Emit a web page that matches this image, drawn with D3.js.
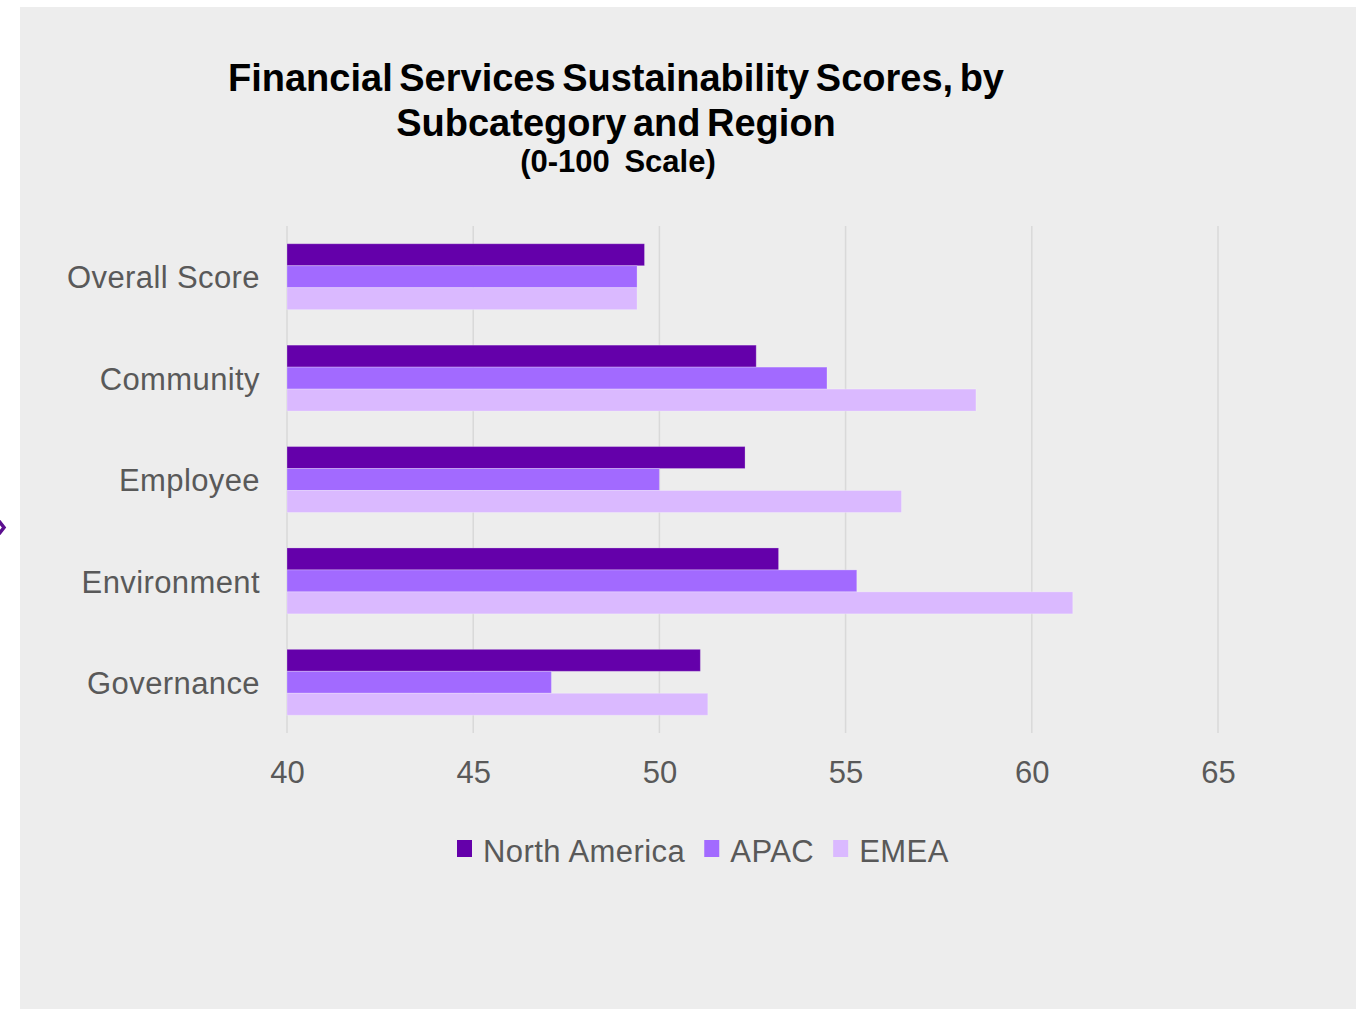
<!DOCTYPE html>
<html>
<head>
<meta charset="utf-8">
<script src="https://cdn.jsdelivr.net/npm/d3@7"></script>
<style>
  body { margin: 0; background: #fff; }
  svg { display: block; font-family: 'Liberation Sans', Arial, sans-serif; }
</style>
</head>
<body>
<div id="chart"></div>
<script>
const categories = ['Overall Score', 'Community', 'Employee', 'Environment', 'Governance']
const regions = ['North America', 'APAC', 'EMEA']
const northAmerica = [49.6, 52.6, 52.3, 53.2, 51.1]
const apac = [49.4, 54.5, 50.0, 55.3, 47.1]
const emea = [49.4, 58.5, 56.5, 61.1, 51.3]
const xTicks = [40, 45, 50, 55, 60, 65]
const titleLines = ['Financial Services Sustainability Scores, by', 'Subcategory and Region']
const subtitle = '(0-100 Scale)'

const series = [northAmerica, apac, emea]
const colors = ['#6400aa', '#a26aff', '#dab9ff']

const W = 1369
const H = 1009
const m = { top: 226, left: 287, right: 151, bottom: 276 }

const svg = d3.select('#chart').append('svg')
  .attr('width', W)
  .attr('height', H)

// grey panel
svg.append('rect')
  .attr('x', 20).attr('y', 7)
  .attr('width', 1336).attr('height', 1002)
  .attr('fill', '#ededed')

// small marker on the left edge
svg.append('path')
  .attr('d', 'M-1,521 L4,527.5 L-1,534')
  .attr('fill', 'none')
  .attr('stroke', '#5b0f8f')
  .attr('stroke-width', 3.5)

const x = d3.scaleLinear()
  .domain([40, 65])
  .range([m.left, W - m.right])

const y = d3.scaleBand()
  .domain(categories)
  .range([m.top, H - m.bottom])
  .paddingInner(0.35)
  .paddingOuter(0.175)

const y1 = d3.scaleBand()
  .domain(regions)
  .range([0, y.bandwidth()])

// gridlines
svg.append('g')
  .selectAll('line')
  .data(xTicks)
  .join('line')
  .attr('x1', d => x(d)).attr('x2', d => x(d))
  .attr('y1', m.top).attr('y2', H - m.bottom)
  .attr('stroke', '#d9d9d9')
  .attr('stroke-width', 1.5)

// bars
const rows = categories.map((c, i) => ({ c, vals: series.map((s, j) => ({ r: regions[j], v: s[i], j })) }))

svg.append('g')
  .selectAll('g')
  .data(rows)
  .join('g')
  .attr('transform', d => `translate(0,${y(d.c)})`)
  .selectAll('rect')
  .data(d => d.vals)
  .join('rect')
  .attr('x', x(40))
  .attr('y', d => y1(d.r))
  .attr('width', d => x(d.v) - x(40))
  .attr('height', y1.bandwidth())
  .attr('fill', d => colors[d.j])
  .attr('stroke', 'rgba(255,255,255,0.25)')
  .attr('stroke-width', 1)

// category labels
svg.append('g')
  .selectAll('text')
  .data(categories)
  .join('text')
  .attr('x', 260)
  .attr('y', d => y(d) + y.bandwidth() / 2)
  .attr('dy', '0.38em')
  .attr('text-anchor', 'end')
  .attr('fill', '#595959')
  .style('font-size', '31px')
  .style('letter-spacing', '0.4px')
  .text(d => d)

// x axis
const xAxis = svg.append('g')
  .attr('transform', `translate(0,${H - m.bottom})`)
  .call(d3.axisBottom(x).tickValues(xTicks).tickSize(0).tickPadding(28))
xAxis.select('.domain').remove()
xAxis.selectAll('text')
  .attr('fill', '#595959')
  .style('font-size', '31px')
  .style('font-family', "'Liberation Sans', Arial, sans-serif")

// title
svg.append('g')
  .selectAll('text')
  .data(titleLines)
  .join('text')
  .attr('x', 616)
  .attr('y', (d, i) => 91 + i * 45)
  .attr('text-anchor', 'middle')
  .style('font-size', '38px')
  .style('font-weight', 'bold')
  .style('word-spacing', '-4px')
  .attr('fill', '#000')
  .text(d => d)

svg.append('text')
  .attr('x', 618)
  .attr('y', 172)
  .attr('text-anchor', 'middle')
  .style('font-size', '31px')
  .style('font-weight', 'bold')
  .style('word-spacing', '6px')
  .attr('fill', '#000')
  .text(subtitle)

// legend
const legend = svg.append('g')
let lx = 457
regions.forEach((r, i) => {
  legend.append('rect')
    .attr('x', lx).attr('y', 840)
    .attr('width', 15).attr('height', 17)
    .attr('fill', colors[i])
  const t = legend.append('text')
    .attr('x', lx + 26)
    .attr('y', 862)
    .attr('fill', '#595959')
    .style('font-size', '31px')
    .style('letter-spacing', '0.45px')
    .text(r)
  lx += 26 + t.node().getComputedTextLength() + 19
})
</script>
</body>
</html>
